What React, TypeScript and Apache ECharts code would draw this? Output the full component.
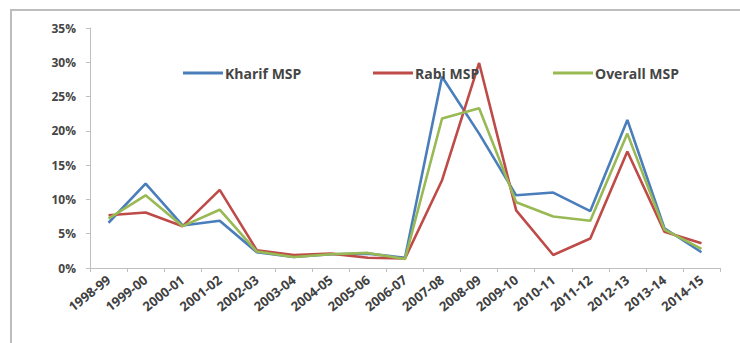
import React, { useEffect, useRef } from "react";
import * as echarts from "echarts";

const categories = [
  "1998-99", "1999-00", "2000-01", "2001-02", "2002-03", "2003-04", "2004-05", "2005-06",
  "2006-07", "2007-08", "2008-09", "2009-10", "2010-11", "2011-12", "2012-13", "2013-14", "2014-15",
];
const kharif = [6.6, 12.3, 6.2, 6.9, 2.3, 1.6, 2.0, 2.1, 1.5, 27.9, 19.6, 10.6, 11.0, 8.3, 21.6, 5.8, 2.3];
const rabi = [7.7, 8.1, 6.1, 11.4, 2.6, 1.9, 2.1, 1.5, 1.4, 12.8, 29.9, 8.4, 1.9, 4.3, 17.0, 5.3, 3.6];
const overall = [7.2, 10.6, 6.1, 8.5, 2.4, 1.6, 2.0, 2.2, 1.3, 21.8, 23.3, 9.6, 7.5, 6.9, 19.6, 5.6, 2.8];
const yTicks = [0, 5, 10, 15, 20, 25, 30, 35];

const FONT = "'Open Sans', 'Liberation Sans', sans-serif";

export default function App() {
  const ref = useRef<HTMLDivElement>(null);
  useEffect(() => {
    if (!ref.current) return;
    const chart = echarts.init(ref.current, null, { renderer: "svg" });
    const mk = (name: string, data: number[], color: string) => ({
      name,
      type: "line",
      data,
      symbol: "none",
      lineStyle: { width: 2.6, color },
      itemStyle: { color },
    });
    const legendBase = {
      top: 61,
      itemWidth: 40,
      itemHeight: 3,
      itemGap: 2,
      textStyle: {
        fontFamily: FONT,
        fontSize: 14,
        fontWeight: "bold",
        color: "#454545",
        padding: [0, 0, 0, -3],
      },
      icon: "rect",
    };
    chart.setOption({
      animation: false,
      backgroundColor: "#ffffff",
      graphic: [
        { type: "line", shape: { x1: 10, y1: 10, x2: 740, y2: 10 }, style: { stroke: "#bdbdbd", lineWidth: 2 } },
        { type: "line", shape: { x1: 11, y1: 10, x2: 11, y2: 343 }, style: { stroke: "#bdbdbd", lineWidth: 2 } },
      ],
      legend: [
        { ...legendBase, left: 178, data: ["Kharif MSP"] },
        { ...legendBase, left: 368, data: ["Rabi MSP"] },
        { ...legendBase, left: 548, data: ["Overall MSP"] },
      ],
      grid: { left: 90, right: 20, top: 28, bottom: 75 },
      xAxis: {
        type: "category",
        data: categories,
        boundaryGap: true,
        axisLine: { lineStyle: { color: "#bfbfbf", width: 1 } },
        axisTick: { show: true, length: 4, lineStyle: { color: "#bfbfbf" } },
        axisLabel: {
          rotate: 38,
          interval: 0,
          margin: 10,
          fontFamily: FONT,
          fontSize: 13,
          fontWeight: "bold",
          color: "#404040",
        },
        splitLine: { show: false },
      },
      yAxis: {
        type: "value",
        min: yTicks[0],
        max: yTicks[yTicks.length - 1],
        interval: 5,
        axisLine: { show: true, lineStyle: { color: "#bfbfbf", width: 1 } },
        axisTick: { show: true, length: 4, lineStyle: { color: "#bfbfbf" } },
        axisLabel: {
          formatter: (v: number) => `${v}%`,
          margin: 14,
          fontFamily: FONT,
          fontSize: 12,
          fontWeight: "bold",
          color: "#454545",
        },
        splitLine: { show: false },
      },
      series: [
        mk("Kharif MSP", kharif, "#4a7ebb"),
        mk("Rabi MSP", rabi, "#be4b48"),
        mk("Overall MSP", overall, "#98b954"),
      ],
    });
    return () => chart.dispose();
  }, []);
  return (
    <div
      ref={ref}
      style={{ position: "fixed", left: 0, top: 0, width: 740, height: 343, background: "#fff" }}
    />
  );
}
